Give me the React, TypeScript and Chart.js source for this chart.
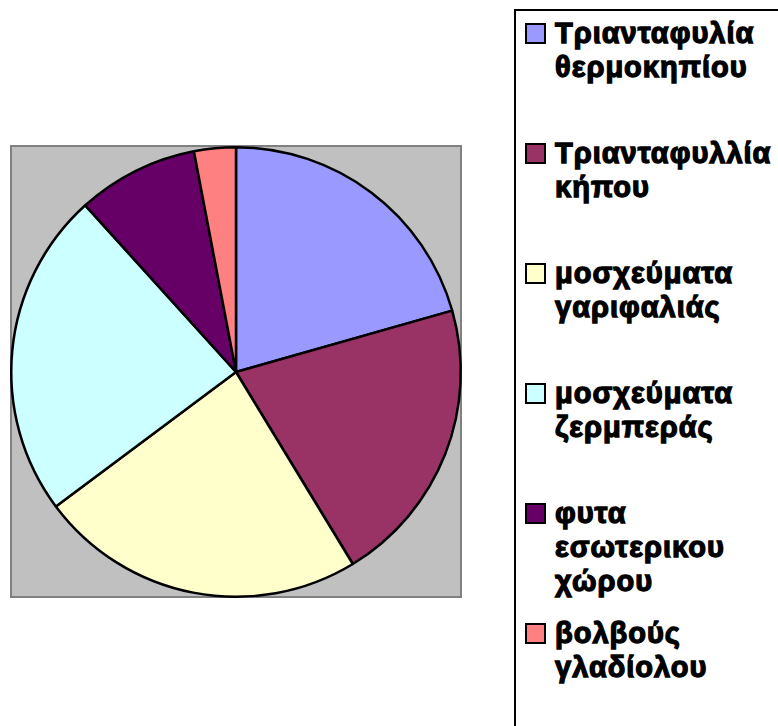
import React, { useEffect, useRef } from "react";
import { Chart, registerables } from "chart.js";

Chart.register(...registerables);

const categories: string[][] = [
  ["Τριανταφυλία", "θερμοκηπίου"],
  ["Τριανταφυλλία", "κήπου"],
  ["μοσχεύματα", "γαριφαλιάς"],
  ["μοσχεύματα", "ζερμπεράς"],
  ["φυτα", "εσωτερικου", "χώρου"],
  ["βολβούς", "γλαδίολου"],
];

const values: number[] = [20.6, 20.7, 23.5, 23.5, 8.7, 3.0];

const colors: string[] = ["#9999FF", "#993366", "#FFFFCC", "#CCFFFF", "#660066", "#FF8080"];

const FONT = '"Liberation Sans", Arial, sans-serif';

export default function App() {
  const canvasRef = useRef<HTMLCanvasElement | null>(null);

  useEffect(() => {
    const canvas = canvasRef.current;
    if (!canvas) return;
    const chart = new Chart(canvas, {
      type: "pie",
      data: {
        labels: categories.map((l) => l.join(" ")),
        datasets: [
          {
            data: values,
            backgroundColor: colors,
            borderColor: "#000000",
            borderWidth: 2.5,
          },
        ],
      },
      options: {
        animation: false,
        responsive: false,
        maintainAspectRatio: false,
        layout: { padding: { left: 10, top: 146, right: 316, bottom: 128 } },
        plugins: {
          legend: { display: false },
          tooltip: { enabled: false },
        },
      },
    });
    return () => chart.destroy();
  }, []);

  return (
    <div
      style={{
        position: "fixed",
        left: 0,
        top: 0,
        width: 778,
        height: 726,
        overflow: "hidden",
        background: "#FFFFFF",
        fontFamily: FONT,
      }}
    >
      <div
        style={{
          position: "absolute",
          left: 10,
          top: 145,
          width: 452,
          height: 453,
          boxSizing: "border-box",
          background: "#C0C0C0",
          border: "2px solid #808080",
        }}
      />
      <canvas
        ref={canvasRef}
        width={778}
        height={726}
        style={{ position: "absolute", left: 0, top: 0, width: 778, height: 726 }}
      />
      <div
        style={{
          position: "absolute",
          left: 514,
          top: 9,
          width: 320,
          height: 760,
          boxSizing: "border-box",
          border: "2px solid #000000",
          background: "#FFFFFF",
        }}
      />
      {categories.map((lines, i) => (
        <div
          key={i}
          style={{
            position: "absolute",
            left: 525,
            top: 16 + i * 120,
            width: 260,
          }}
        >
          <div
            style={{
              position: "absolute",
              left: 0,
              top: 7,
              width: 21,
              height: 21,
              boxSizing: "border-box",
              border: "2px solid #000000",
              background: colors[i],
            }}
          />
          <div
            style={{
              position: "absolute",
              left: 30,
              top: 0,
              fontFamily: FONT,
              fontWeight: "bold",
              fontSize: 29,
              lineHeight: "34px",
              letterSpacing: "1px",
              color: "#000000",
              whiteSpace: "nowrap",
              WebkitTextStroke: "1.3px #000000",
            }}
          >
            {lines.map((t, j) => (
              <div key={j}>{t}</div>
            ))}
          </div>
        </div>
      ))}
    </div>
  );
}
